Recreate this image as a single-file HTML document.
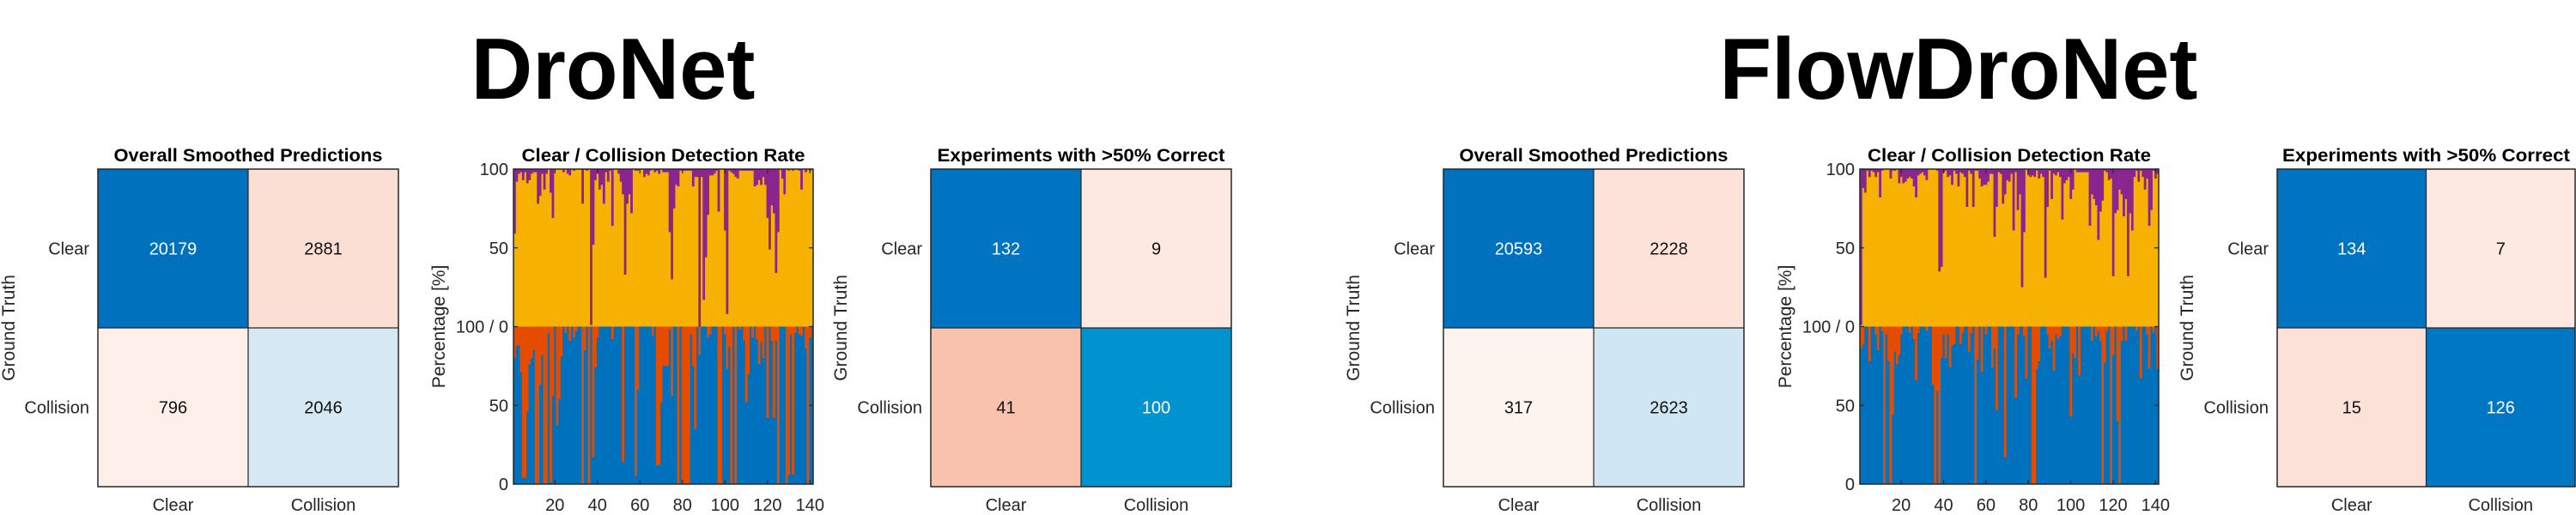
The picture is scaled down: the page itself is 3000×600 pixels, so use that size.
<!DOCTYPE html>
<html><head><meta charset="utf-8"><style>
html,body{margin:0;padding:0;background:#fff;}
svg{display:block;font-family:"Liberation Sans",Arial,sans-serif;}
</style></head><body>
<svg id="fig" width="3000" height="600" viewBox="0 0 3000 600" xmlns="http://www.w3.org/2000/svg">
<text x="714" y="115" font-size="101" font-weight="bold" text-anchor="middle" textLength="331" lengthAdjust="spacingAndGlyphs">DroNet</text>
<text x="2281" y="115" font-size="101" font-weight="bold" text-anchor="middle" textLength="557" lengthAdjust="spacingAndGlyphs">FlowDroNet</text>
</svg>
<script>
const classLabels = ["Clear","Collision"];
const xTicks = [20,40,60,80,100,120,140];
const yTickLabels = ["100","50","100 / 0","50","0"];
const dronetOverall = [[20179,2881],[796,2046]];
const dronetExp = [[132,9],[41,100]];
const flowOverall = [[20593,2228],[317,2623]];
const flowExp = [[134,7],[15,126]];
const dronetPurple = [41,8,3,2,7,2,9,7,3,2,2,22,17,3,13,3,0,15,31,0,0,0,0,2,0,3,4,0,1,0,0,0,22,0,1,0,99,48,7,3,13,10,22,2,8,1,36,0,0,3,8,16,67,22,16,28,0,1,1,0,0,5,3,4,1,0,2,1,3,0,2,2,2,40,70,25,10,11,1,1,1,1,1,1,11,5,5,100,5,83,56,29,4,4,3,1,27,0,0,39,92,1,2,3,5,6,1,1,1,1,1,1,1,11,10,7,10,5,10,31,51,23,28,66,40,0,6,16,0,1,0,1,0,0,1,13,0,2,0,1,0];
const dronetRed = [20,12,12,29,96,96,54,24,20,15,100,100,37,18,100,100,4,99,44,0,63,46,19,0,4,0,9,0,7,3,0,0,100,15,0,100,0,83,26,7,0,0,0,0,0,0,8,0,0,0,0,86,0,0,0,0,0,95,40,0,0,0,0,0,0,6,0,88,88,48,25,25,25,2,44,0,0,100,0,100,100,100,100,5,25,65,0,18,0,0,0,7,5,0,0,0,100,100,0,5,27,13,100,0,100,0,2,0,9,48,30,0,7,0,8,24,10,20,0,58,0,9,58,9,100,0,0,0,100,94,5,94,4,0,5,6,0,14,100,7,0];
const flowPurple = [99,12,15,1,5,1,2,5,2,18,1,0,0,0,6,1,1,0,9,5,9,8,6,5,6,11,18,4,3,2,4,7,0,0,0,0,1,65,62,2,1,5,4,10,1,3,11,2,3,5,24,1,3,24,1,1,6,11,10,10,8,3,3,43,24,2,3,22,16,7,8,3,39,2,26,16,75,40,0,4,5,4,5,1,6,3,5,69,24,1,19,3,4,2,5,32,9,7,5,19,13,0,2,2,2,2,2,2,36,16,19,23,45,27,20,1,2,7,6,68,28,26,13,16,30,19,68,28,39,5,1,8,1,5,13,6,36,26,1,6,3];
const flowRed = [14,11,0,0,22,0,0,5,15,0,3,100,5,22,100,56,16,24,18,5,0,0,0,4,0,8,34,4,0,0,0,3,0,0,37,100,41,100,20,5,20,5,26,12,11,0,0,11,4,0,0,16,4,0,100,21,0,29,0,5,0,0,26,14,53,0,0,0,83,0,0,0,0,45,5,0,0,6,33,0,0,100,100,27,22,0,0,0,5,14,9,28,5,8,6,0,0,0,0,57,17,20,0,31,0,0,0,0,0,9,0,6,3,9,100,23,3,0,100,18,0,60,100,9,0,9,0,0,0,0,3,0,33,0,0,5,27,0,4,0,27];

const NS = "http://www.w3.org/2000/svg";
const svg = document.getElementById('fig');
function mk(tag, attrs, parent){ const e=document.createElementNS(NS,tag); for(const k in attrs) e.setAttribute(k,attrs[k]); (parent||svg).appendChild(e); return e; }
function txt(s, attrs, parent){ const e=mk('text',attrs,parent); e.textContent=s; return e; }

function drawMatrix(x0, y0, w, h, data, colors, title, titleLen, gtX, name){
  const g = mk('g',{});
  
  
  const cw = w/2, ch = h/2;
  for(let r=0;r<2;r++){
    for(let k=0;k<2;k++){
      const rect = mk('rect',{x:x0+k*cw,y:y0+r*ch,width:cw,height:ch,fill:colors[r][k]},g);
      
      
      const dark = (colors[r][k].toLowerCase().startsWith('#00'));
      const t = txt(String(data[r][k]),{x:x0+k*cw+cw/2,y:y0+r*ch+ch/2+7,'font-size':20,'text-anchor':'middle',fill:dark?'#ffffff':'#111111'},g);
      
      
    }
  }
  mk('line',{x1:x0+cw,y1:y0,x2:x0+cw,y2:y0+h,stroke:'#262626','stroke-width':1.2},g);
  mk('line',{x1:x0,y1:y0+ch,x2:x0+w,y2:y0+ch,stroke:'#262626','stroke-width':1.2},g);
  mk('rect',{x:x0,y:y0,width:w,height:h,fill:'none',stroke:'#262626','stroke-width':1.5},g);
  for(let i=0;i<2;i++){
    const yl = txt(classLabels[i],{x:x0-10,y:y0+i*ch+ch/2+7,'font-size':20,'text-anchor':'end',fill:'#262626'},g);
    
    
    const xl = txt(classLabels[i],{x:x0+i*cw+cw/2,y:595,'font-size':20,'text-anchor':'middle',fill:'#262626'},g);
    
    
  }
  const tt = txt(title,{x:x0+w/2,y:188,'font-size':21,'font-weight':'bold','text-anchor':'middle',textLength:titleLen,lengthAdjust:'spacingAndGlyphs'},g);
  
  
  const gt = txt('Ground Truth',{x:0,y:0,'font-size':21,'text-anchor':'middle',fill:'#262626',transform:`translate(${gtX},${y0+h/2}) rotate(-90)`},g);
  
  
}

function drawStack(x0, y0, w, h, purple, red, pctX, name){
  const g = mk('g',{});
  
  
  const n = purple.length, bw = w/n, half = h/2, mid = y0+half;
  const xScale = v => x0 + (v-0.5)*bw;
  const topScale = p => y0 + p/100*half;
  const botScale = p => mid + p/100*half;
  mk('rect',{x:x0,y:y0,width:w,height:half,fill:'#f7b100'},g);
  mk('rect',{x:x0,y:mid,width:w,height:half,fill:'#0072bd'},g);
  for(let i=0;i<n;i++){
    const bx = xScale(i+0.5);
    if(purple[i]>0){
      const b = mk('rect',{x:bx,y:y0,width:bw+0.3,height:topScale(purple[i])-y0,fill:'#8a2590'},g);
      
      
    }
    if(red[i]>0){
      const b = mk('rect',{x:bx,y:mid,width:bw+0.3,height:botScale(red[i])-mid,fill:'#e64c00'},g);
      
      
    }
  }
  mk('rect',{x:x0,y:y0,width:w,height:h,fill:'none',stroke:'#262626','stroke-width':1.5},g);
  for(let j=0;j<yTickLabels.length;j++){
    const yy = y0 + j*h/(yTickLabels.length-1);
    mk('line',{x1:x0,y1:yy,x2:x0+5,y2:yy,stroke:'#262626','stroke-width':1.2},g);
    mk('line',{x1:x0+w,y1:yy,x2:x0+w-5,y2:yy,stroke:'#262626','stroke-width':1.2},g);
    const l = txt(yTickLabels[j],{x:x0-6,y:yy+7,'font-size':20,'text-anchor':'end',fill:'#262626'},g);
    
    
  }
  for(const t of xTicks){
    const xx = xScale(t);
    mk('line',{x1:xx,y1:y0+h,x2:xx,y2:y0+h-5,stroke:'#262626','stroke-width':1.2},g);
    mk('line',{x1:xx,y1:y0,x2:xx,y2:y0+5,stroke:'#262626','stroke-width':1.2},g);
    const l = txt(String(t),{x:xx,y:595,'font-size':20,'text-anchor':'middle',fill:'#262626'},g);
    
    
  }
  const tt = txt('Clear / Collision Detection Rate',{x:x0+w/2,y:188,'font-size':21,'font-weight':'bold','text-anchor':'middle',textLength:330,lengthAdjust:'spacingAndGlyphs'},g);
  
  
  const pl = txt('Percentage [%]',{x:0,y:0,'font-size':21,'text-anchor':'middle',fill:'#262626',transform:`translate(${pctX},${y0+half}) rotate(-90)`},g);
  
  
}

// DroNet
drawMatrix(114,197,350,370,dronetOverall,[["#0072bd","#fbdfd4"],["#fdf0eb","#d5e8f4"]],'Overall Smoothed Predictions',313,17,'dronet-overall-matrix');
drawStack(598,197,349,367,dronetPurple,dronetRed,518,'dronet-detection-rate');
drawMatrix(1084,197,350,370,dronetExp,[["#0073c1","#fde9e2"],["#f8c2ad","#0093d0"]],'Experiments with >50% Correct',335,986,'dronet-experiments-matrix');
// FlowDroNet
drawMatrix(1681,197,350,370,flowOverall,[["#0072bd","#fce2d8"],["#fdf4f0","#d0e6f3"]],'Overall Smoothed Predictions',313,1583,'flowdronet-overall-matrix');
drawStack(2166,197,348,367,flowPurple,flowRed,2086,'flowdronet-detection-rate');
drawMatrix(2652,197,347,370,flowExp,[["#0073c1","#fde9e2"],["#fce1d8","#0077c2"]],'Experiments with >50% Correct',335,2554,'flowdronet-experiments-matrix');
</script>
</body></html>
